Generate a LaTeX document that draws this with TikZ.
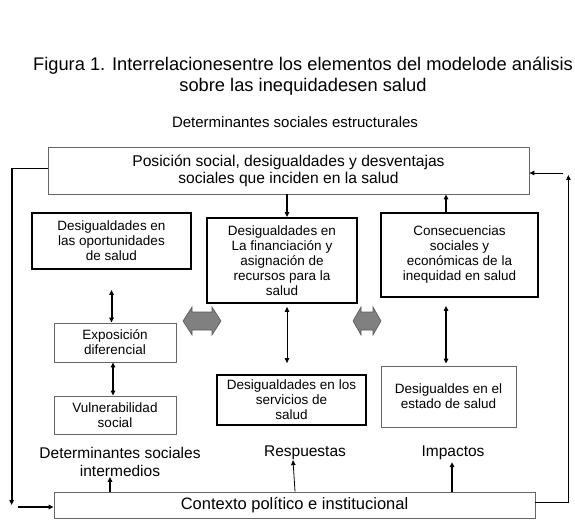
\documentclass[tikz,border=0pt]{standalone}
\usepackage{fontspec}
\setmainfont{Liberation Sans}
\usetikzlibrary{arrows.meta}
\begin{document}
\begin{tikzpicture}[x=1pt,y=-1pt,
  boxtxt/.style={align=center, inner sep=0pt, font=\fontsize{13.5}{15}\selectfont},
  thickbox/.style={boxtxt, draw=black, line width=1.8pt},
  thinbox/.style={boxtxt, draw=black!60, line width=0.8pt},
  lbl/.style={align=center, inner sep=0pt, font=\fontsize{15.5}{18}\selectfont},
  arr/.style={-{Triangle[length=5pt,width=4.5pt]}},
  darr/.style={{Triangle[length=5pt,width=4.5pt]}-{Triangle[length=5pt,width=4.5pt]}},
  heavy/.style={line width=2pt},
  light/.style={line width=0.8pt},
  garrow/.style={fill=black!50, draw=black!65, line width=0.6pt}]
\useasboundingbox (0,0) rectangle (575,521);
\fill[white] (0,0) rectangle (575,521);

% titles
\node[align=center, inner sep=0pt, font=\fontsize{18.3}{21}\selectfont] (title) at (303,76)
  {Figura 1. Interrelacionesentre los elementos del modelode análisis\\sobre las inequidadesen salud};
\node[inner sep=0pt, font=\fontsize{15}{17}\selectfont] (estr) at (295,122) {Determinantes sociales estructurales};

% boxes
\node[thinbox, font=\fontsize{15.6}{17}\selectfont, minimum width=481pt, minimum height=47pt] (top) at (288.5,170.5)
  {Posición social, desigualdades y desventajas\\sociales que inciden en la salud};
\node[thickbox, minimum width=159pt, minimum height=56pt] (opp) at (111.5,241)
  {Desigualdades en\\las oportunidades\\de salud};
\node[thickbox, minimum width=150pt, minimum height=85pt] (fin) at (282,260.5)
  {Desigualdades en\\La financiación y\\asignación de\\recursos para la\\salud};
\node[thickbox, minimum width=157pt, minimum height=84pt] (cons) at (459.5,255)
  {Consecuencias\\sociales y\\económicas de la\\inequidad en salud};
\node[thinbox, minimum width=122pt, minimum height=39pt] (expo) at (115,342.5)
  {Exposición\\diferencial};
\node[thinbox, minimum width=122pt, minimum height=38pt] (vuln) at (115,415)
  {Vulnerabilidad\\social};
\node[thickbox, minimum width=149pt, minimum height=50pt] (serv) at (291.5,400)
  {Desigualdades en los\\servicios de\\salud};
\node[thinbox, minimum width=135pt, minimum height=61pt] (estado) at (448.5,396.5)
  {Desigualdes en el\\estado de salud};
\node[thinbox, font=\fontsize{16.5}{18}\selectfont, minimum width=481pt, minimum height=26pt] (ctx) at (294.5,505)
  {Contexto político e institucional};

% labels
\node[lbl] (inter) at (120,462) {Determinantes sociales\\intermedios};
\node[lbl] (resp) at (305,453) {Respuestas};
\node[lbl] (imp) at (453,453) {Impactos};

% vertical connectors
\draw[arr, heavy] ([xshift=-1.5pt]top.south) -- ([xshift=-1.5pt]top.south |- fin.north);
\draw[arr, heavy] ([xshift=-13.5pt]cons.north) -- ([xshift=-13.5pt]cons.north |- top.south);
\draw[darr, heavy] ([yshift=-20pt]opp.south) -- (opp.south |- expo.north);
\draw[darr, heavy] ([xshift=-2pt]expo.south) -- ([xshift=-2pt]vuln.north);
\draw[darr, light] ([xshift=5pt,yshift=-3pt]fin.south) -- ([xshift=5pt,yshift=11pt]fin.south |- serv.north);
\draw[darr, heavy] ([xshift=-2.5pt,yshift=-8pt]estado.north |- cons.south) -- ([xshift=-2.5pt,yshift=2pt]estado.north);
\draw[arr, heavy] ([xshift=-10pt]inter.south |- ctx.north) -- ([xshift=-10pt]inter.south);
\draw[arr, light] ([xshift=-10pt]resp.south |- ctx.north) -- ([xshift=-12pt]resp.south);
\draw[arr, heavy] ([xshift=-1pt]imp.south |- ctx.north) -- ([xshift=-1pt,yshift=-2pt]imp.south);

% left feedback loop
\draw[light] ([yshift=2.5pt]top.west) -- ++(-36,0) coordinate (lt);
\draw[arr, heavy] (lt) -- (lt |- ctx.center);
\draw[arr, heavy] ([xshift=-36pt,yshift=-2pt]ctx.west) -- ([yshift=-2pt]ctx.west);

% right feedback loop
\draw[arr, light] ([yshift=3pt]ctx.east) -- ++(33,0) -- ++(0,-327);
\draw[arr, light] ([xshift=34pt,yshift=-2.5pt]top.east) -- ([yshift=-2.5pt]top.east);

% gray block arrows
\draw[garrow, shift={(202,321)}] (-19,0) -- (-10,-14) -- (-10,-9) -- (10,-9) -- (10,-14) -- (19,0)
  -- (10,14) -- (10,9) -- (-10,9) -- (-10,14) -- cycle;
\draw[garrow, shift={(367,321)}] (-14,0) -- (-6,-14) -- (-6,-9) -- (6,-9) -- (6,-14) -- (14,0)
  -- (6,14) -- (6,9) -- (-6,9) -- (-6,14) -- cycle;
\end{tikzpicture}
\end{document}
